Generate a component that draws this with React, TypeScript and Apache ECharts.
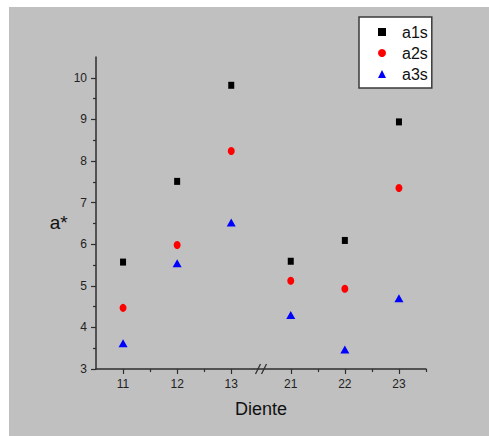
import React, { useEffect, useRef } from 'react';
import * as echarts from 'echarts';

// Categories (teeth) and their positions on a broken x axis (gap between 13 and 21)
const categories = ['11', '12', '13', '21', '22', '23'];
const categoryPositions = [0.5, 1.5, 2.5, 3.6, 4.6, 5.6];
const xMinorTicks = [1, 2, 4.1, 5.1, 6.1];
const xBreakAt = 3.05;

// Series values (a*)
const a1s = [5.57, 7.51, 9.82, 5.59, 6.09, 8.94];
const a2s = [4.47, 5.98, 8.24, 5.12, 4.93, 7.35];
const a3s = [3.62, 5.54, 6.52, 4.3, 3.47, 4.7];

// Y axis ticks
const yMajorTicks = [3, 4, 5, 6, 7, 8, 9, 10];
const yMinorTicks = [3.5, 4.5, 5.5, 6.5, 7.5, 8.5, 9.5];

const FONT = '"Liberation Sans Narrow", "Arial Narrow", "Liberation Sans", Arial, sans-serif';
const AXIS_COLOR = '#2e2e2e';

const toPoints = (vals: number[]) => vals.map((v, i) => [categoryPositions[i], v]);

export default function App() {
  const ref = useRef<HTMLDivElement>(null);

  useEffect(() => {
    if (!ref.current) return;
    const chart = echarts.init(ref.current, null, { renderer: 'svg' });
    const labelFor = (v: number) => {
      const idx = categoryPositions.findIndex((p) => Math.abs(p - v) < 1e-6);
      return idx >= 0 ? categories[idx] : '';
    };
    chart.setOption({
      animation: false,
      backgroundColor: '#c0c0c0',
      textStyle: { fontFamily: FONT },
      grid: { left: 87, top: 50, width: 330, height: 312, containLabel: false },
      legend: {
        orient: 'vertical',
        left: 350,
        top: 10,
        padding: [7, 4, 6, 19],
        itemWidth: 8,
        itemHeight: 8,
        itemGap: 5,
        backgroundColor: '#ffffff',
        borderColor: '#3a3a3a',
        borderWidth: 1.5,
        borderRadius: 0,
        textStyle: { fontFamily: FONT, fontSize: 16, color: '#111', lineHeight: 16, padding: [0, 0, 0, 11] },
        data: ['a1s', 'a2s', 'a3s'],
      },
      xAxis: [
        {
          type: 'value',
          min: 0,
          max: 6.1,
          position: 'bottom',
          name: 'Diente',
          nameLocation: 'middle',
          nameGap: 31,
          nameTextStyle: { fontFamily: FONT, fontSize: 18, color: '#111' },
          splitLine: { show: false },
          axisLine: { show: true, lineStyle: { color: AXIS_COLOR, width: 1.5 } },
          axisTick: { show: true, length: 5, customValues: categoryPositions, lineStyle: { color: AXIS_COLOR, width: 1.2 } },
          axisLabel: {
            show: true,
            customValues: categoryPositions,
            formatter: (v: number) => labelFor(v),
            fontFamily: FONT,
            fontSize: 12,
            color: '#222',
            margin: 9,
          },
        },
        {
          type: 'value',
          min: 0,
          max: 6.1,
          position: 'bottom',
          splitLine: { show: false },
          axisLine: { show: false },
          axisTick: { show: true, length: 3, customValues: xMinorTicks, lineStyle: { color: AXIS_COLOR, width: 1.2 } },
          axisLabel: { show: false },
        },
      ],
      yAxis: [
        {
          type: 'value',
          min: 3,
          max: 10.5,
          position: 'left',
          name: 'a*',
          nameLocation: 'middle',
          nameRotate: 0,
          nameGap: 22,
          nameTextStyle: { fontFamily: FONT, fontSize: 19, color: '#111', verticalAlign: 'top' },
          splitLine: { show: false },
          axisLine: { show: true, lineStyle: { color: AXIS_COLOR, width: 1.5 } },
          axisTick: { show: true, length: 5, customValues: yMajorTicks, lineStyle: { color: AXIS_COLOR, width: 1.2 } },
          axisLabel: {
            show: true,
            customValues: yMajorTicks,
            fontFamily: FONT,
            fontSize: 12,
            color: '#222',
            margin: 9,
          },
        },
        {
          type: 'value',
          min: 3,
          max: 10.5,
          position: 'left',
          splitLine: { show: false },
          axisLine: { show: false },
          axisTick: { show: true, length: 3, customValues: yMinorTicks, lineStyle: { color: AXIS_COLOR, width: 1.2 } },
          axisLabel: { show: false },
        },
      ],
      series: [
        {
          name: 'a1s',
          type: 'scatter',
          symbol: 'rect',
          symbolSize: [6, 7],
          itemStyle: { color: '#000000', opacity: 1 },
          data: toPoints(a1s),
        },
        {
          name: 'a2s',
          type: 'scatter',
          symbol: 'circle',
          symbolSize: [7, 8],
          itemStyle: { color: '#ff0000', opacity: 1 },
          data: toPoints(a2s),
        },
        {
          name: 'a3s',
          type: 'scatter',
          symbol: 'triangle',
          symbolSize: [9, 8],
          itemStyle: { color: '#0000ff', opacity: 1 },
          data: toPoints(a3s),
        },
      ],
    });

    const p = chart.convertToPixel({ xAxisIndex: 0, yAxisIndex: 0 }, [xBreakAt, 3]) as number[];
    if (p) {
      const [cx, cy] = p;
      const slash = (dx: number) => ({
        type: 'line',
        shape: { x1: cx + dx - 2.5, y1: cy + 5, x2: cx + dx + 2.5, y2: cy - 5 },
        style: { stroke: AXIS_COLOR, lineWidth: 1.3 },
        z: 100,
      });
      chart.setOption({ graphic: [slash(-3), slash(3)] });
    }

    return () => chart.dispose();
  }, []);

  return (
    <div style={{ position: 'absolute', left: 0, top: 0, width: 489, height: 436, background: '#ffffff' }}>
      <div ref={ref} style={{ position: 'absolute', left: 9, top: 7, width: 480, height: 429 }} />
    </div>
  );
}
